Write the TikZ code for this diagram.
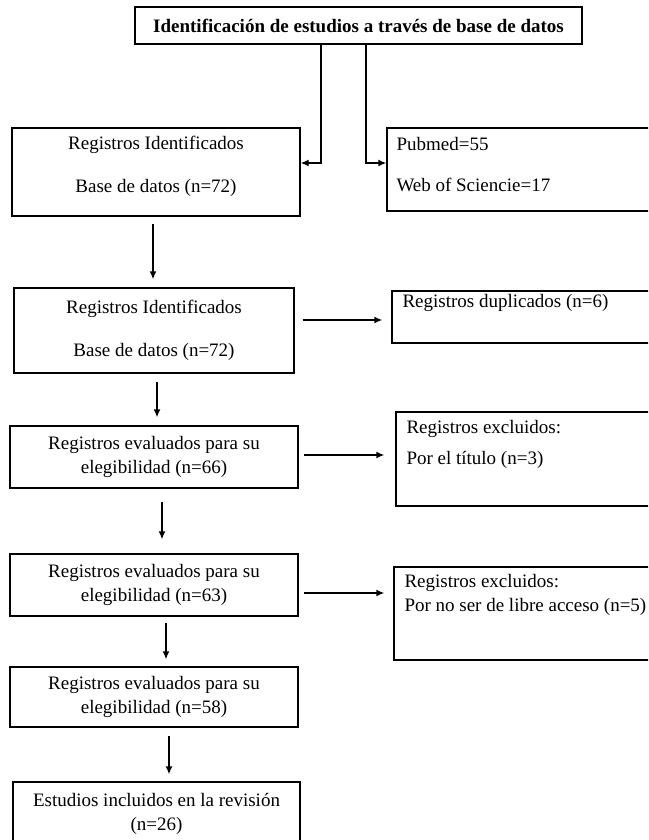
\documentclass[tikz,border=0pt]{standalone}
\usepackage{fontspec}
\setmainfont{Liberation Serif}
\usetikzlibrary{arrows.meta,calc}

\begin{document}
\begin{tikzpicture}[x=1pt,y=-1pt,
  caja/.style={draw,line width=1.4pt,inner sep=0pt,align=center,font=\fontsize{19}{24}\selectfont},
  txt/.style={inner sep=0pt,anchor=north west,align=left,font=\fontsize{19}{24}\selectfont},
  flecha/.style={line width=1.4pt,-{Latex[length=8pt,width=7pt]}}]
  \useasboundingbox (0,0) rectangle (648,840);
  \clip (0,0) rectangle (648,840);

  % cajas de la columna izquierda
  \node[caja,minimum width=447pt,minimum height=37pt,font=\bfseries\fontsize{19}{23}\selectfont] (titulo) at (358.5,25.5) {Identificación de estudios a través de base de datos};
  \node[caja,minimum width=288pt,minimum height=88pt,text depth=16pt] (reg1) at (156,172) {Registros Identificados\\[19pt]Base de datos (n=72)};
  \node[caja,minimum width=280pt,minimum height=85pt] (reg2) at (154,330.5) {Registros Identificados\\[19pt]Base de datos (n=72)};
  \node[caja,minimum width=288pt,minimum height=62pt] (eval1) at (154,457) {Registros evaluados para su\\elegibilidad (n=66)};
  \node[caja,minimum width=288pt,minimum height=62pt] (eval2) at (154,585) {Registros evaluados para su\\elegibilidad (n=63)};
  \node[caja,minimum width=288pt,minimum height=60pt] (eval3) at (154,697) {Registros evaluados para su\\elegibilidad (n=58)};
  \node[caja,minimum width=287pt,minimum height=63pt] (incl) at (156.5,813.5) {Estudios incluidos en la revisión\\(n=26)};

  % cajas de la derecha
  \node[caja,minimum width=270pt,minimum height=83pt] (fuentes) at (522,169.5) {};
  \node[txt] (fuentestxt) at ([xshift=10pt,yshift=-9.5pt]fuentes.north west) {Pubmed=55\\[17pt]Web of Sciencie=17};
  \node[caja,minimum width=270pt,minimum height=52pt] (dup) at (527,317) {};
  \node[txt] (duptxt) at ([xshift=11pt,yshift=-4pt]dup.north west) {Registros duplicados (n=6)};
  \node[caja,minimum width=270pt,minimum height=94pt] (excl1) at (531,459) {};
  \node[txt] (excl1txt) at ([xshift=11pt,yshift=-8.5pt]excl1.north west) {Registros excluidos:\\[7pt]Por el título (n=3)};
  \node[caja,minimum width=270pt,minimum height=93pt] (excl2) at (529,613.5) {};
  \node[txt] (excl2txt) at ([xshift=11pt,yshift=-7.5pt]excl2.north west) {Registros excluidos:\\Por no ser de libre acceso (n=5)};

  % conectores
  \coordinate (izq) at (321,163);
  \coordinate (der) at (366,163);
  \draw[flecha] (titulo.south -| izq) |- (reg1.east |- izq);
  \draw[flecha] (titulo.south -| der) |- (fuentes.west |- der);

  \draw[flecha,shorten <=7pt,shorten >=8pt] ([xshift=-3pt]reg1.south) -- ([xshift=-3pt]reg1.south |- reg2.north);
  \draw[flecha,shorten <=8pt,shorten >=8pt] ([xshift=3pt]reg2.south) -- ([xshift=3pt]reg2.south |- eval1.north);
  \draw[flecha,shorten <=13pt,shorten >=14pt] ([xshift=8pt]eval1.south) -- ([xshift=8pt]eval1.south |- eval2.north);
  \draw[flecha,shorten <=6pt,shorten >=7pt] ([xshift=12pt]eval2.south) -- ([xshift=12pt]eval2.south |- eval3.north);
  \draw[flecha,shorten <=8pt,shorten >=7pt] ([xshift=15pt]eval3.south) -- ([xshift=15pt]eval3.south |- incl.north);

  \draw[flecha,shorten <=8pt,shorten >=9pt] ([yshift=10.5pt]reg2.east) -- ([yshift=10.5pt]reg2.east -| dup.west);
  \draw[flecha,shorten <=5pt,shorten >=11pt] ([yshift=2pt]eval1.east) -- ([yshift=2pt]eval1.east -| excl1.west);
  \draw[flecha,shorten <=5pt,shorten >=9pt] ([yshift=-8pt]eval2.east) -- ([yshift=-8pt]eval2.east -| excl2.west);
\end{tikzpicture}
\end{document}
